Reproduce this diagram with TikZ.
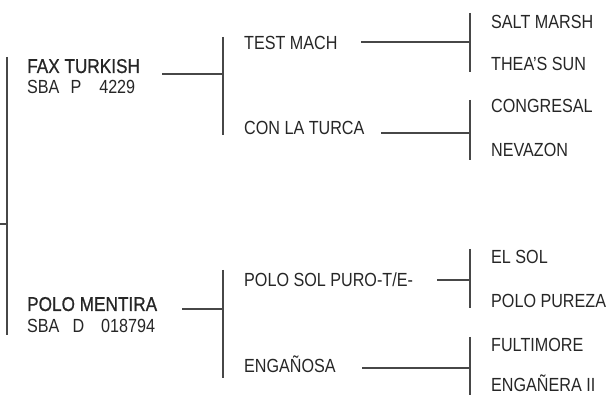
\documentclass[tikz,border=0pt]{standalone}
\usepackage{fontspec}
\setmainfont{Liberation Sans}[FakeStretch=0.85]
\newfontfamily\namefont{Liberation Sans}[FakeStretch=0.86,FakeBold=0.7]
\begin{document}
\begin{tikzpicture}[x=1pt,y=-1pt,
  lbl/.style={anchor=base west,inner sep=0pt,font=\fontsize{19}{21}\selectfont,text=black!85},
  namelbl/.style={lbl,font=\namefont\fontsize{20}{22}\selectfont},
  ln/.style={draw=black!72,line width=1.5pt}]
\useasboundingbox (0,0) rectangle (608,395);
% level 1
\node[namelbl] (fax) at (27,73) {FAX TURKISH};
\node[lbl] (faxid) at (27,94) {SBA\hspace{11pt}P\hspace{18pt}4229};
\node[namelbl] (polo) at (27,311) {POLO MENTIRA};
\node[lbl] (poloid) at (27,333) {SBA\hspace{13pt}D\hspace{17pt}018794};
% level 2
\node[lbl] (test) at (244,50) {TEST MACH};
\node[lbl] (con) at (244,135) {CON LA TURCA};
\node[lbl] (sol) at (244,287) {POLO SOL PURO-T/E-};
\node[lbl] (eng) at (244,373) {ENGAÑOSA};
% level 3
\node[lbl] (salt) at (491,29) {SALT MARSH};
\node[lbl] (thea) at (491,71) {THEA'S SUN};
\node[lbl] (cong) at (491,113) {CONGRESAL};
\node[lbl] (neva) at (491,157) {NEVAZON};
\node[lbl] (elsol) at (491,264) {EL SOL};
\node[lbl] (pureza) at (491,308) {POLO PUREZA};
\node[lbl] (fult) at (491,352) {FULTIMORE};
\node[lbl] (engii) at (491,391.5) {ENGAÑERA II};
% coordinates
\coordinate (r0) at (0,224);
\coordinate (rm) at (7,224);
\coordinate (rt) at (7,57);
\coordinate (rb) at (7,335);
\coordinate (fa) at (162,74);
\coordinate (fb) at (223,74);
\coordinate (ft) at (223,37);
\coordinate (fbb) at (223,135);
\coordinate (pa) at (182,309);
\coordinate (pb) at (223,309);
\coordinate (pt) at (223,270);
\coordinate (pbb) at (223,378);
\coordinate (ta) at (361,42);
\coordinate (tb) at (470,42);
\coordinate (tt) at (470,13);
\coordinate (tbb) at (470,72);
\coordinate (ca) at (381,133);
\coordinate (cb) at (470,133);
\coordinate (ct) at (470,100);
\coordinate (cbb) at (470,160);
\coordinate (sa) at (437,280);
\coordinate (sb) at (470,280);
\coordinate (st) at (470,249);
\coordinate (sbb) at (470,308);
\coordinate (ea) at (362,368);
\coordinate (eb) at (470,368);
\coordinate (et) at (470,337);
\coordinate (ebb) at (470,395);
% connectors
\draw[ln] (r0) -- (rm);
\draw[ln] (rt) -- (rb);
\draw[ln] (fa) -- (fb);
\draw[ln] (ft) -- (fbb);
\draw[ln] (pa) -- (pb);
\draw[ln] (pt) -- (pbb);
\draw[ln] (ta) -- (tb);
\draw[ln] (tt) -- (tbb);
\draw[ln] (ca) -- (cb);
\draw[ln] (ct) -- (cbb);
\draw[ln] (sa) -- (sb);
\draw[ln] (st) -- (sbb);
\draw[ln] (ea) -- (eb);
\draw[ln] (et) -- (ebb);
\end{tikzpicture}
\end{document}
